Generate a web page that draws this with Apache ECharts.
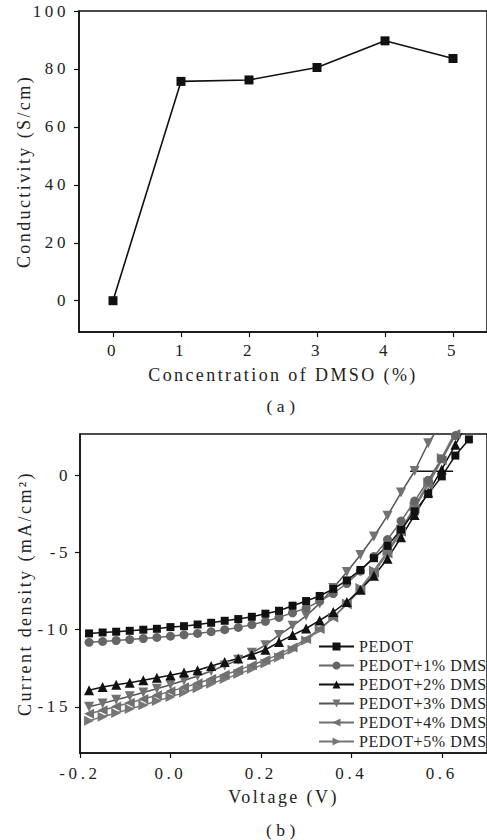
<!DOCTYPE html>
<html>
<head>
<meta charset="utf-8">
<title>PEDOT + DMSO</title>
<script src="https://cdn.jsdelivr.net/npm/echarts@6/dist/echarts.min.js"></script>
<style>
  html, body { margin: 0; padding: 0; background: #fff; }
  #main { width: 487px; height: 840px; }
</style>
</head>
<body>
<div id="main"></div>
<script>
// ---- (a) conductivity ----
const dmso = [0, 1, 2, 3, 4, 5];
const conductivity = [0, 75.7, 76.2, 80.5, 89.7, 83.6];
const dmsoTicks = [0, 1, 2, 3, 4, 5];
const condTicks = [0, 20, 40, 60, 80, 100];

// ---- (b) J-V curves ----
const voltage = [-0.18, -0.15, -0.12, -0.09, -0.06, -0.03, 0, 0.03, 0.06, 0.09,
  0.12, 0.15, 0.18, 0.21, 0.24, 0.27, 0.30, 0.33, 0.36, 0.39,
  0.42, 0.45, 0.48, 0.51, 0.54, 0.57, 0.60, 0.63, 0.66];
const jPedot = [-10.24, -10.18, -10.13, -10.07, -10.0, -9.94, -9.83, -9.77, -9.66, -9.55,
  -9.42, -9.31, -9.16, -8.96, -8.77, -8.44, -8.14, -7.81, -7.35, -6.8,
  -6.12, -5.36, -4.56, -3.5, -2.32, -1.2, -0.05, 1.3, 2.35];
const jDmso1 = [-10.82, -10.76, -10.7, -10.64, -10.57, -10.5, -10.42, -10.33, -10.24, -10.13,
  -10.0, -9.85, -9.67, -9.46, -9.2, -8.9, -8.6, -8.15, -7.65, -7.0,
  -6.2, -5.25, -4.15, -2.95, -1.65, -0.3, 1.1, 2.6, 4.1];
const jDmso2 = [-13.93, -13.72, -13.57, -13.44, -13.28, -13.11, -12.96, -12.78, -12.63, -12.35,
  -12.1, -11.87, -11.62, -11.3, -10.8, -10.35, -9.92, -9.4, -8.85, -8.2,
  -7.4, -6.5, -5.4, -4.0, -2.55, -1.1, 0.4, 2.0, 3.6];
const jDmso3 = [-15.0, -14.78, -14.55, -14.32, -14.08, -13.83, -13.57, -13.3, -13.0, -12.68,
  -12.33, -11.95, -11.5, -11.0, -10.35, -9.75, -9.1, -8.3, -7.3, -6.25,
  -5.15, -3.95, -2.6, -1.1, 0.3, 2.1, 3.4];
const jDmso4 = [-15.45, -15.22, -14.98, -14.74, -14.5, -14.25, -14.0, -13.74, -13.47, -13.2,
  -12.92, -12.62, -12.3, -11.97, -11.6, -11.15, -10.6, -9.95, -9.2, -8.35,
  -7.4, -6.3, -5.05, -3.65, -2.15, -0.6, 1.0, 2.7, 4.4];
const jDmso5 = [-15.9, -15.65, -15.4, -15.15, -14.9, -14.63, -14.36, -14.08, -13.8, -13.5,
  -13.2, -12.88, -12.55, -12.2, -11.8, -11.3, -10.7, -10.0, -9.2, -8.3,
  -7.3, -6.15, -4.9, -3.5, -2.0, -0.45, 1.15, 2.85, 4.5];
// short black dash near J = 0
const dashV = [0.53, 0.625];
const dashJ = [0.28, 0.28];
const voltTicks = [-0.2, 0, 0.2, 0.4, 0.6];
const currTicks = [-15, -10, -5, 0];

const names = ["PEDOT", "PEDOT+1% DMSO", "PEDOT+2% DMSO",
  "PEDOT+3% DMSO", "PEDOT+4% DMSO", "PEDOT+5% DMSO"];

const FONT = "Liberation Serif";
const pairs = (xs, ys) => ys.map((y, i) => [xs[i], y]);

const axisCommon = {
  axisLine: { show: true, onZero: false, lineStyle: { color: "#111", width: 1.5 } },
  axisTick: { show: true, length: 5, lineStyle: { color: "#111", width: 1.2 } },
  axisLabel: { color: "#222", fontFamily: FONT, fontSize: 17 },
  splitLine: { show: false },
  nameLocation: "middle",
  nameTextStyle: { color: "#222", fontFamily: FONT, fontSize: 18 },
};

function jvSeries(name, data, symbol, rotate, lineColor, markColor, size) {
  return {
    name: name,
    type: "line",
    xAxisIndex: 1,
    yAxisIndex: 1,
    data: data,
    symbol: symbol,
    symbolRotate: rotate,
    symbolSize: size,
    lineStyle: { color: lineColor, width: 1.5 },
    itemStyle: { color: markColor },
  };
}

const chart = echarts.init(document.getElementById("main"), null, { renderer: "svg" });

// the scanned figure has widely spaced lettering
function spaceLetters() {
  document.querySelectorAll("#main text").forEach((t) => {
    const fs = parseFloat(getComputedStyle(t).fontSize);
    let sp = 0;
    if (fs === 17) sp = 3.6;
    else if (fs === 18) sp = 2.4;
    else if (fs === 17.5) sp = 4.5;
    else if (fs === 16) sp = 0.6;
    t.setAttribute("letter-spacing", sp + "px");
    t.style.letterSpacing = sp + "px";
  });
}
chart.on("finished", spaceLetters);

const option = {
  animation: false,
  backgroundColor: "#fff",
  title: [
    { text: "(a)", left: 283, top: 397, textAlign: "center", padding: 0,
      textStyle: { color: "#222", fontFamily: FONT, fontSize: 17.5, fontWeight: "normal" } },
    { text: "(b)", left: 283, top: 821, textAlign: "center", padding: 0,
      textStyle: { color: "#222", fontFamily: FONT, fontSize: 17.5, fontWeight: "normal" } },
  ],
  grid: [
    { left: 79, top: 11, right: -2, bottom: 508, show: true, borderColor: "#111", borderWidth: 1.5 },
    { left: 80, top: 434, right: -2, bottom: 87, show: true, borderColor: "#111", borderWidth: 1.5 },
  ],
  legend: {
    orient: "vertical",
    left: 313,
    top: 633,
    itemWidth: 35,
    itemHeight: 10,
    itemGap: 2,
    data: names,
    textStyle: { color: "#222", fontFamily: FONT, fontSize: 16, lineHeight: 17 },
  },
  xAxis: [
    Object.assign({}, axisCommon, {
      gridIndex: 0, type: "value", min: -0.5, max: 5.5,
      name: "Concentration of DMSO (%)", nameGap: 34,
      axisTick: Object.assign({}, axisCommon.axisTick, { customValues: dmsoTicks }),
      axisLabel: Object.assign({}, axisCommon.axisLabel, { customValues: dmsoTicks, margin: 10 }),
    }),
    Object.assign({}, axisCommon, {
      gridIndex: 1, type: "value", min: -0.2, max: 0.7,
      name: "Voltage (V)", nameGap: 35,
      axisTick: Object.assign({}, axisCommon.axisTick, { customValues: voltTicks }),
      axisLabel: Object.assign({}, axisCommon.axisLabel, {
        customValues: voltTicks, margin: 12,
        formatter: (v) => v.toFixed(1),
      }),
    }),
  ],
  yAxis: [
    Object.assign({}, axisCommon, {
      gridIndex: 0, type: "value", min: -10.8, max: 100,
      name: "Conductivity (S/cm)", nameGap: 44,
      axisTick: Object.assign({}, axisCommon.axisTick, { customValues: condTicks }),
      axisLabel: Object.assign({}, axisCommon.axisLabel, { customValues: condTicks, margin: 10 }),
    }),
    Object.assign({}, axisCommon, {
      gridIndex: 1, type: "value", min: -18, max: 2.7,
      name: "Current density (mA/cm²)", nameGap: 46,
      axisTick: Object.assign({}, axisCommon.axisTick, { customValues: currTicks }),
      axisLabel: Object.assign({}, axisCommon.axisLabel, { customValues: currTicks, margin: 9 }),
    }),
  ],
  series: [
    {
      type: "line",
      xAxisIndex: 0,
      yAxisIndex: 0,
      data: pairs(dmso, conductivity),
      symbol: "rect",
      symbolSize: 9,
      lineStyle: { color: "#111", width: 1.6 },
      itemStyle: { color: "#111" },
    },
    {
      type: "line",
      xAxisIndex: 1,
      yAxisIndex: 1,
      data: pairs(dashV, dashJ),
      symbol: "none",
      lineStyle: { color: "#111", width: 1.5 },
    },
    jvSeries(names[5], pairs(voltage, jDmso5), "triangle", -90, "#777", "#777", 10),
    jvSeries(names[4], pairs(voltage, jDmso4), "triangle", 90, "#707070", "#707070", 10),
    jvSeries(names[3], pairs(voltage, jDmso3), "triangle", 180, "#555", "#727272", 10),
    jvSeries(names[2], pairs(voltage, jDmso2), "triangle", 0, "#111", "#111", 10),
    jvSeries(names[1], pairs(voltage, jDmso1), "circle", 0, "#666", "#666", 9),
    jvSeries(names[0], pairs(voltage, jPedot), "rect", 0, "#111", "#111", 8),
  ],
};

chart.setOption(option);
spaceLetters();
setTimeout(spaceLetters, 50);
setTimeout(spaceLetters, 300);
</script>
</body>
</html>
